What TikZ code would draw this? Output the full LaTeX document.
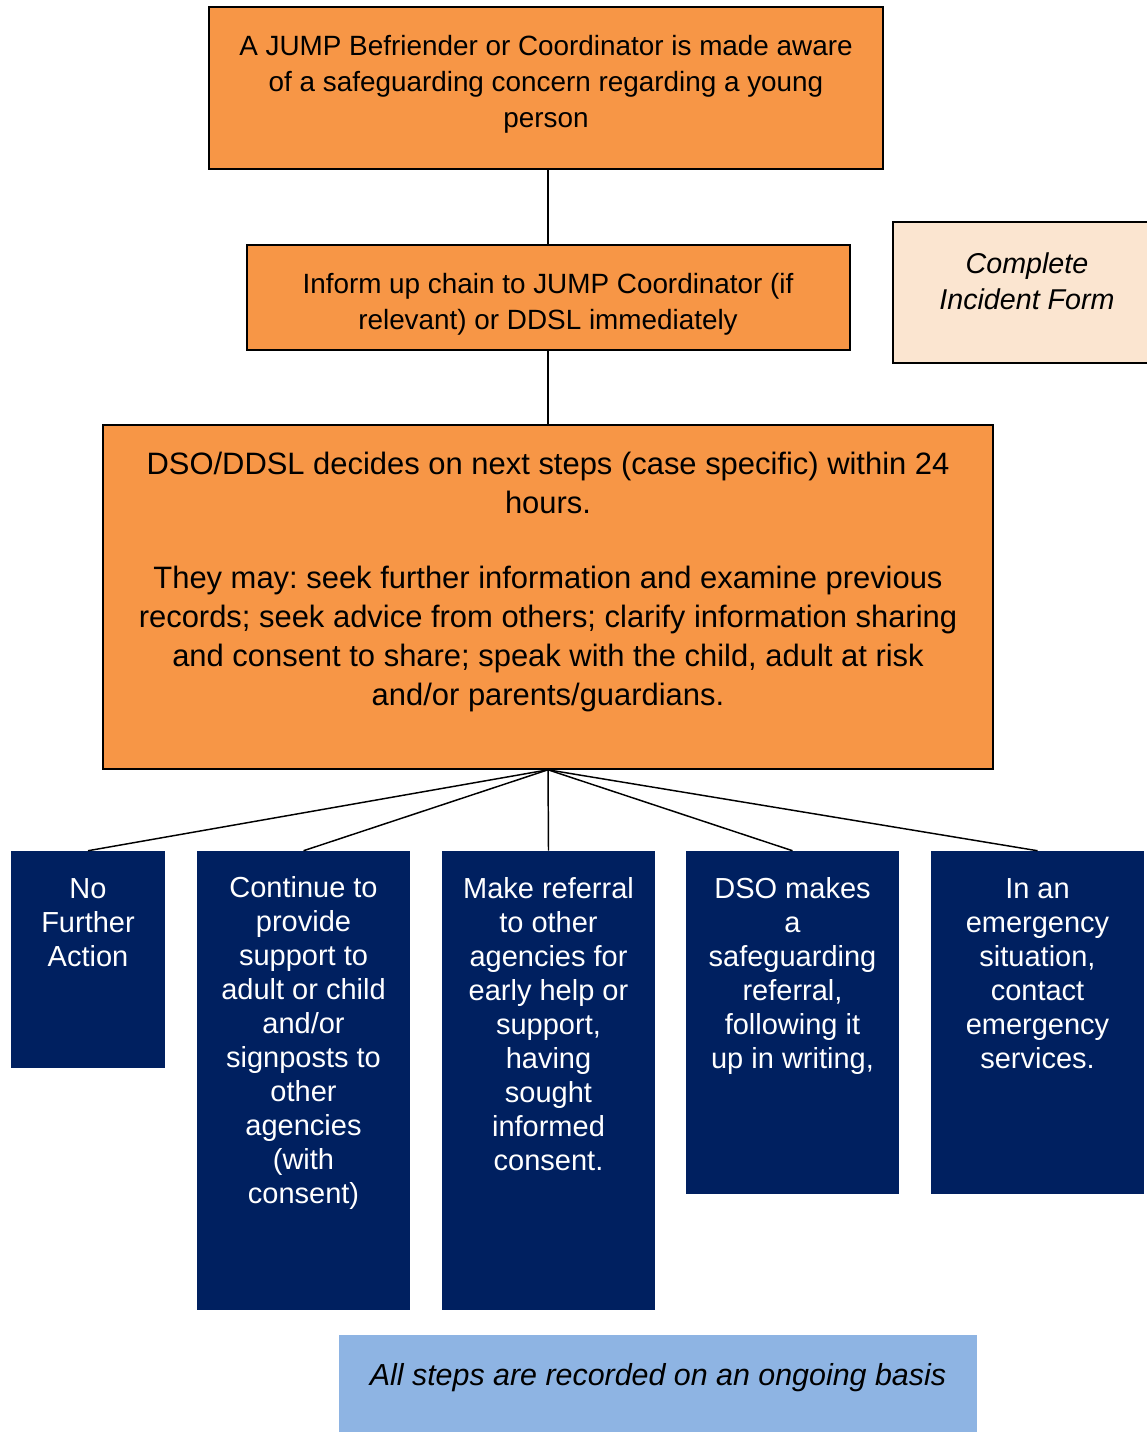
\documentclass[tikz,border=0pt]{standalone}
\usepackage{fontspec}
\setmainfont{Liberation Sans}
\frenchspacing
\definecolor{orangefill}{HTML}{F79646}
\definecolor{navyfill}{HTML}{002060}
\definecolor{peachfill}{HTML}{FBE5D0}
\definecolor{bluefill}{HTML}{8EB4E3}
\newdimen\pxu \pxu=0.75pt
\begin{document}
\begin{tikzpicture}[x=0.75pt,y=-0.75pt]
\tikzset{
  orangebox/.style={draw=black, line width=1.2pt, fill=orangefill, inner sep=0pt},
  navybox/.style={fill=navyfill, inner sep=0pt},
  peachbox/.style={draw=black, line width=1.2pt, fill=peachfill, inner sep=0pt},
  notebox/.style={fill=bluefill, inner sep=0pt},
  link/.style={draw=black, line width=1.1pt},
  toptext/.style={align=center, font=\fontsize{20.9pt}{27pt}\selectfont, inner sep=0pt},
  midtext/.style={align=center, font=\fontsize{23.2pt}{29.25pt}\selectfont, inner sep=0pt},
  navytext/.style={align=center, text=white, font=\fontsize{21.75pt}{25.5pt}\selectfont, inner sep=0pt},
}
\useasboundingbox (0,0) rectangle (1146,1433);
% boxes
\node[orangebox, minimum width=674\pxu, minimum height=162\pxu] (b1) at (546,88) {};
\node[orangebox, minimum width=603\pxu, minimum height=105\pxu] (b2) at (548.5,297.5) {};
\node[peachbox, minimum width=260\pxu, minimum height=141\pxu] (inc) at (1023,292.5) {};
\node[orangebox, minimum width=890\pxu, minimum height=344\pxu] (b3) at (548,597) {};
\node[navybox, minimum width=154\pxu, minimum height=217\pxu] (n1) at (88,959.5) {};
\node[navybox, minimum width=213\pxu, minimum height=459\pxu] (n2) at (303.5,1080.5) {};
\node[navybox, minimum width=213\pxu, minimum height=459\pxu] (n3) at (548.5,1080.5) {};
\node[navybox, minimum width=213\pxu, minimum height=343\pxu] (n4) at (792.5,1022.5) {};
\node[navybox, minimum width=213\pxu, minimum height=343\pxu] (n5) at (1037.5,1022.5) {};
\node[notebox, minimum width=638\pxu, minimum height=97\pxu] (rec) at (658,1383.5) {};
% connectors
\draw[link] (b3.north |- b1.south) -- (b3.north |- b2.north);
\draw[link] (b3.north |- b2.south) -- (b3.north);
\foreach \t in {n1,n2,n3,n4,n5}{\draw[link] (b3.south) -- (\t.north);}
% texts
\node[toptext] (t1) at (546,84) {A JUMP Befriender or Coordinator is made aware\\of a safeguarding concern regarding a young\\person};
\node[toptext] (t2) at (548,304) {Inform up chain to JUMP Coordinator (if\\relevant) or DDSL immediately};
\node[toptext, font=\fontsize{21.5pt}{27pt}\selectfont\itshape] (tinc) at (1027,281) {Complete\\Incident Form};
\node[midtext] (t3) at (548,582) {DSO/DDSL decides on next steps (case specific) within 24\\hours.\\[27pt]They may: seek further information and examine previous\\records; seek advice from others; clarify information sharing\\and consent to share; speak with the child, adult at risk\\and/or parents/guardians.};
\node[navytext] (tn1) at (88,923) {No\\Further\\Action};
\node[navytext] (tn2) at (303.5,1043) {Continue to\\provide\\support to\\adult or child\\and/or\\signposts to\\other\\agencies\\(with\\consent)};
\node[navytext] (tn3) at (548.5,1024.5) {Make referral\\to other\\agencies for\\early help or\\support,\\having\\sought\\informed\\consent.};
\node[navytext] (tn4) at (792.5,976) {DSO makes\\a\\safeguarding\\referral,\\following it\\up in writing,};
\node[navytext] (tn5) at (1037.5,974) {In an\\emergency\\situation,\\contact\\emergency\\services.};
\node[align=center, inner sep=0pt, font=\fontsize{22.8pt}{27pt}\selectfont\itshape] (trec) at (658,1378) {All steps are recorded on an ongoing basis};
\end{tikzpicture}
\end{document}
